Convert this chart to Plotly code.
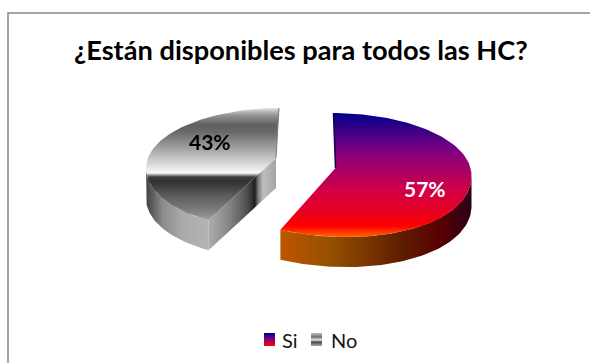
import numpy as np
import plotly.graph_objects as go

# Chart content
title_text = "¿Están disponibles para todos las HC?"
categories = ["Si", "No"]
values = [57, 43]

# Gradient stops for each surface: (pixel position, colour)
si_top_stops = [(113, "rgb(0,0,140)"), (150, "rgb(125,0,130)"), (190, "rgb(210,0,70)"),
                (212, "rgb(232,0,32)"), (226, "rgb(255,0,0)"), (238, "rgb(255,110,0)")]
si_rim_stops = [(280, "rgb(190,85,0)"), (330, "rgb(150,80,0)"), (400, "rgb(95,30,0)"),
                (440, "rgb(90,0,0)"), (470, "rgb(45,0,25)")]
no_top_stops = [(108, "rgb(225,225,225)"), (115, "rgb(150,150,150)"), (125, "rgb(95,95,95)"),
                (132, "rgb(105,105,105)"), (145, "rgb(150,150,150)"), (162, "rgb(210,210,210)"),
                (173, "rgb(248,248,248)"), (177, "rgb(60,60,60)"), (182, "rgb(50,50,50)"),
                (195, "rgb(90,90,90)"), (212, "rgb(130,130,130)"), (221, "rgb(165,165,165)")]
no_rim_stops = [(147, "rgb(70,70,70)"), (153, "rgb(95,95,95)"), (163, "rgb(140,140,140)"),
                (183, "rgb(170,170,170)"), (210, "rgb(180,180,180)")]
no_cut_stops = [(208, "rgb(175,175,175)"), (230, "rgb(130,130,130)"), (247, "rgb(80,80,80)"),
                (255, "rgb(30,30,30)"), (258, "rgb(120,120,120)"), (263, "rgb(190,190,190)"),
                (276, "rgb(165,165,165)")]

# Extrusion height of the wedges
depth = 30


def colorscale(stops):
    lo, hi = stops[0][0], stops[-1][0]
    return [[(p - lo) / (hi - lo), c] for p, c in stops]


def project(angle, cx, cy, radius_x, radius_y, perspective, skew_back=0.0, skew_front=0.0):
    """Map clockwise-from-top angles (degrees) on the pie disc to the tilted view."""
    rad = np.radians(angle)
    u, v = np.sin(rad), -np.cos(rad)
    scale = 1 / (1 - perspective * v)
    skew = np.where(v < 0, skew_back, skew_front) * v * np.abs(v)
    return cx + radius_x * u * scale + skew, cy + radius_y * v * scale


def surface(xs, ys, stops, orientation):
    return go.Scatter(
        x=xs, y=ys, mode="lines", line=dict(width=0), fill="toself", hoverinfo="skip",
        showlegend=False,
        fillgradient=dict(type=orientation, colorscale=colorscale(stops),
                          start=stops[0][0], stop=stops[-1][0]),
    )


fig = go.Figure()

sweep = np.array(values) / sum(values) * 360
si_end = sweep[0]

# "Si" wedge: outer rim, then top face
si = dict(cx=335.5, cy=168.0, radius_x=135.0, radius_y=61.2, perspective=0.114,
          skew_back=2.0, skew_front=11.0)
rim_a = np.linspace(96, si_end, 80)
rx, ry = project(rim_a, **si)
fig.add_trace(surface(np.r_[rx, rx[::-1]], np.r_[ry, ry[::-1] + depth], si_rim_stops, "horizontal"))
top_a = np.linspace(0, si_end, 120)
tx, ty = project(top_a, **si)
fig.add_trace(surface(np.r_[si["cx"], tx, si["cx"]], np.r_[si["cy"], ty, si["cy"]], si_top_stops, "vertical"))
fig.add_trace(go.Scatter(x=[tx[0], si["cx"]], y=[ty[0], si["cy"]], mode="lines",
                         line=dict(color="rgb(20,0,70)", width=1.5), hoverinfo="skip", showlegend=False))

# "No" wedge: rim, cut face, then top face
no = dict(cx=276.0, cy=158.0, radius_x=128.0, radius_y=58.3, perspective=0.167,
          skew_back=-3.0, skew_front=-4.0)
rim_a = np.linspace(si_end, 260, 60)
rx, ry = project(rim_a, **no)
fig.add_trace(surface(np.r_[rx, rx[::-1]], np.r_[ry, ry[::-1] + depth], no_rim_stops, "horizontal"))
ex, ey = project(np.array([si_end]), **no)
cut_x = [no["cx"], ex[0], ex[0], no["cx"], no["cx"]]
cut_y = [no["cy"], ey[0], ey[0] + depth, no["cy"] + depth, no["cy"]]
fig.add_trace(surface(cut_x, cut_y, no_cut_stops, "horizontal"))
top_a = np.linspace(si_end, 360, 100)
tx, ty = project(top_a, **no)
fig.add_trace(surface(np.r_[no["cx"], tx, no["cx"]], np.r_[no["cy"], ty, no["cy"]], no_top_stops, "vertical"))
fig.add_trace(go.Scatter(x=[tx[-1], no["cx"]], y=[ty[-1], no["cy"]], mode="lines",
                         line=dict(color="rgb(120,120,120)", width=1), hoverinfo="skip", showlegend=False))

# Legend swatches
swatches = [(264, 275, [(333, "rgb(0,0,140)"), (339, "rgb(130,0,130)"), (346, "rgb(255,0,0)")]),
            (311, 322, [(333, "rgb(190,190,190)"), (337, "rgb(110,110,110)"), (340, "rgb(235,235,235)"),
                        (342, "rgb(70,70,70)"), (346, "rgb(170,170,170)")])]
for x0, x1, stops in swatches:
    fig.add_trace(surface([x0, x1, x1, x0, x0], [333, 333, 346, 346, 333], stops, "vertical"))

FONT = "Lato, Carlito, Calibri, sans-serif"
annotations = [
    dict(x=301, y=49, text=f"<b>{title_text}</b>", font=dict(size=27.2, color="black")),
    dict(x=425, y=188, text=f"<b>{values[0]}%</b>", font=dict(size=21, color="white")),
    dict(x=210, y=141, text=f"<b>{values[1]}%</b>", font=dict(size=21, color="black")),
    dict(x=290, y=340, text=categories[0], font=dict(size=20, color="rgb(20,20,20)")),
    dict(x=343.5, y=340, text=categories[1], font=dict(size=20, color="rgb(20,20,20)")),
]
for a in annotations:
    a.update(xref="x", yref="y", showarrow=False, xanchor="center", yanchor="middle")
    a["font"]["family"] = FONT

fig.update_layout(
    width=590, height=363, margin=dict(l=0, r=0, t=0, b=0),
    paper_bgcolor="white", plot_bgcolor="white", showlegend=False,
    xaxis=dict(range=[0, 590], visible=False, fixedrange=True),
    yaxis=dict(range=[363, 0], visible=False, fixedrange=True),
    annotations=annotations,
    shapes=[dict(type="rect", xref="x", yref="y", x0=8, y0=13, x1=600, y1=373,
                 line=dict(color="rgb(134,134,134)", width=1.5), fillcolor="rgba(0,0,0,0)")],
)

fig.write_html("out.html", config=dict(displayModeBar=False))
